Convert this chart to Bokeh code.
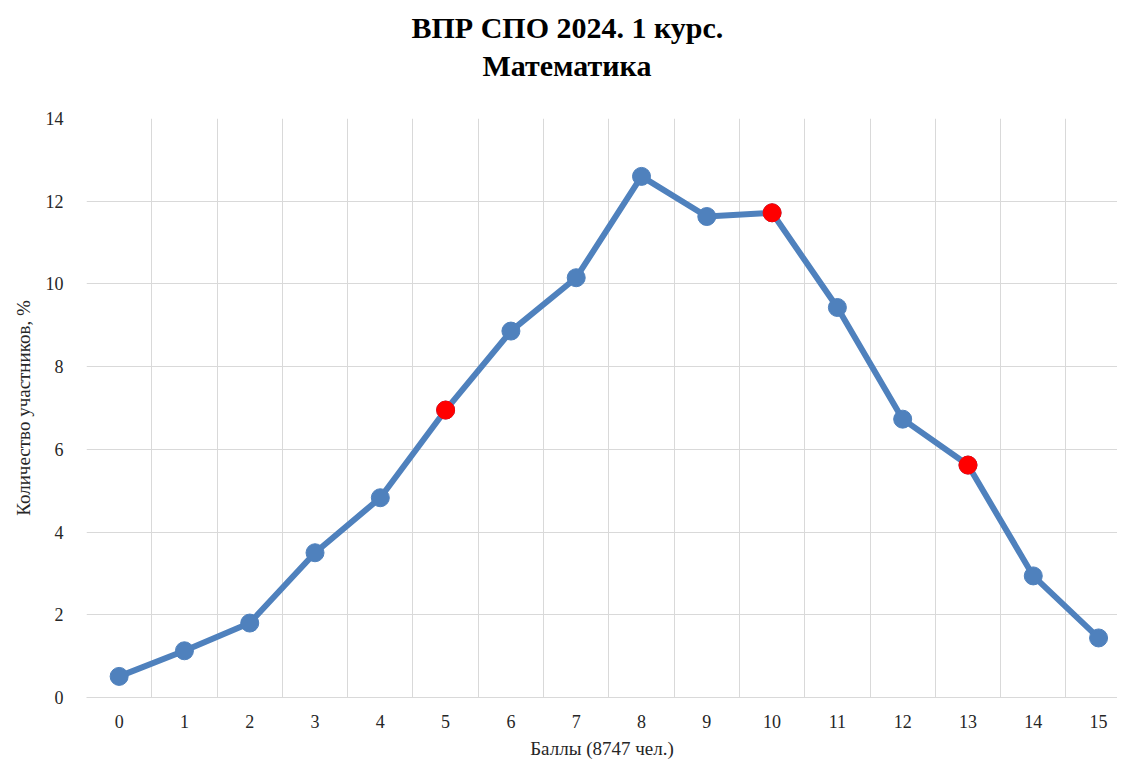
from bokeh.plotting import figure
from bokeh.models import Range1d, FixedTicker, Title, ColumnDataSource
from bokeh.embed import file_html
from bokeh.resources import INLINE

# ---- data ----
title_lines = ["ВПР СПО 2024. 1 курс.", "Математика"]
x_label = "Баллы (8747 чел.)"
y_label = "Количество участников, %"
scores = list(range(16))
percent = [0.51, 1.13, 1.80, 3.50, 4.83, 6.95, 8.86, 10.15, 12.60, 11.63,
           11.72, 9.43, 6.73, 5.62, 2.94, 1.44]
thresholds = [5, 10, 13]
y_ticks = [0, 2, 4, 6, 8, 10, 12, 14]

BLUE = "#4F81BD"
RED = "#FF0000"
GRID = "#D9D9D9"
FONT = "Liberation Serif"

p = figure(width=1117, height=761, output_backend="svg", toolbar_location=None,
           x_range=Range1d(scores[0] - 0.5, scores[-1] + 0.29),
           y_range=Range1d(y_ticks[0], y_ticks[-1]),
           min_border_left=86, min_border_right=0, min_border_top=118,
           min_border_bottom=64)
p.outline_line_color = None
p.background_fill_color = "white"
p.border_fill_color = "white"
p.title.text = ""

# grids
p.xgrid.ticker = FixedTicker(ticks=[s - 0.5 for s in scores] + [scores[-1] + 0.5])
p.ygrid.ticker = FixedTicker(ticks=y_ticks)
p.xgrid.grid_line_color = GRID
p.ygrid.grid_line_color = GRID
p.xgrid.grid_line_width = 1
p.ygrid.grid_line_width = 1

# axes
p.xaxis.ticker = FixedTicker(ticks=scores)
p.yaxis.ticker = FixedTicker(ticks=y_ticks)
for ax in (p.xaxis[0], p.yaxis[0]):
    ax.major_tick_line_color = None
    ax.minor_tick_line_color = None
    ax.major_label_text_font = FONT
    ax.major_label_text_font_size = "18px"
    ax.major_label_text_color = "#262626"
    ax.axis_label_text_font = FONT
    ax.axis_label_text_font_size = "19px"
    ax.axis_label_text_font_style = "normal"
    ax.axis_label_text_color = "#262626"
p.xaxis.axis_line_color = GRID
p.yaxis.axis_line_color = None
p.xaxis.axis_label = x_label
p.yaxis.axis_label = y_label
p.xaxis.major_label_standoff = 11
p.xaxis.axis_label_standoff = 7
p.yaxis.major_label_standoff = 17
p.yaxis.axis_label_standoff = 9

# data
src = ColumnDataSource(dict(x=scores, y=percent))
p.line("x", "y", source=src, line_color=BLUE, line_width=6, line_join="round")
p.scatter("x", "y", source=src, size=18, fill_color=BLUE, line_color=BLUE)
red_src = ColumnDataSource(dict(x=[scores[i] for i in thresholds],
                                y=[percent[i] for i in thresholds]))
p.scatter("x", "y", source=red_src, size=18, fill_color=RED, line_color=RED)

# spacer between the plot area and the title block
p.add_layout(Title(text=" ", standoff=34, text_font_size="1px"), "above")

# title: two lines, each centred on the page (estimated left offsets)
title_offsets = [325, 396]
title_standoffs = [6, 0]
for i in reversed(range(len(title_lines))):
    p.add_layout(Title(text=title_lines[i], align="left", offset=title_offsets[i],
                       standoff=title_standoffs[i], text_font=FONT,
                       text_font_size="30px", text_font_style="bold",
                       text_color="black"), "above")

open("out.html", "w").write(file_html(p, INLINE))
